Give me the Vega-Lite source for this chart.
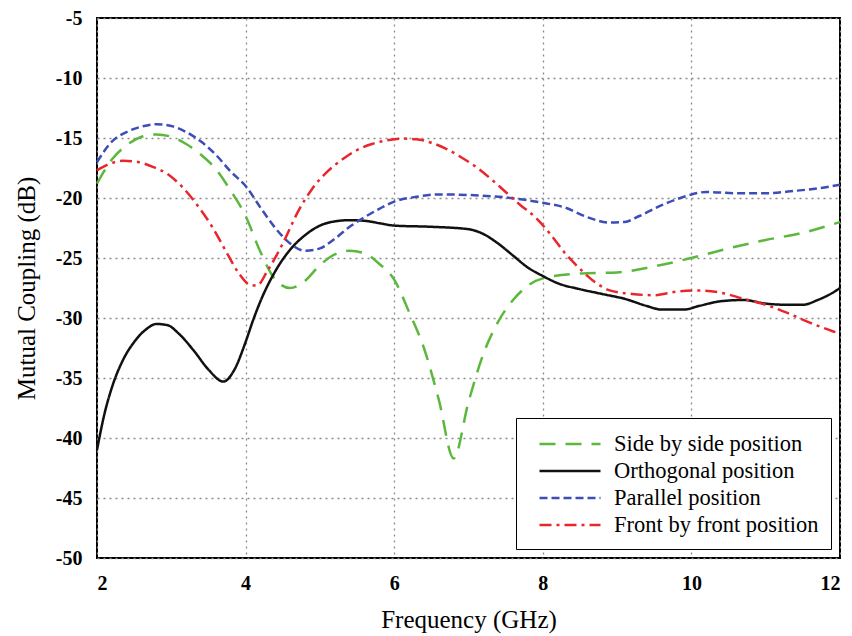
{
  "$schema": "https://vega.github.io/schema/vega-lite/v6.json",
  "width": 743,
  "height": 540,
  "autosize": {"type": "none"},
  "padding": {"left": 97, "top": 18, "right": 12, "bottom": 78},
  "background": "white",
  "config": {
    "view": {"stroke": "black", "strokeWidth": 2},
    "axis": {
      "labelFont": "Liberation Serif",
      "labelFontWeight": "bold",
      "labelFontSize": 20,
      "labelColor": "black",
      "labelExpr": "'' + datum.value",
      "titleFont": "Liberation Serif",
      "titleFontWeight": "normal",
      "titleFontSize": 25,
      "titleColor": "black",
      "ticks": false,
      "domain": false,
      "grid": true,
      "gridColor": "#8a8a8a",
      "gridDash": [2, 4],
      "gridWidth": 1.3
    },
    "legend": {
      "orient": "none",
      "legendX": 419,
      "legendY": 400,
      "strokeColor": "black",
      "fillColor": "white",
      "padding": 12,
      "labelFont": "Liberation Serif",
      "labelFontSize": 22.5,
      "labelColor": "black",
      "labelLimit": 400,
      "symbolType": "M-0.2,0H4.68",
      "symbolSize": 625,
      "symbolStrokeWidth": 2.5,
      "labelOffset": 58,
      "rowPadding": 1
    }
  },
  "data": {
    "values": [
      {"s": "Side by side position", "f": 2.0, "db": -18.8},
      {"s": "Side by side position", "f": 2.2, "db": -16.8},
      {"s": "Side by side position", "f": 2.4, "db": -15.6},
      {"s": "Side by side position", "f": 2.6, "db": -14.9},
      {"s": "Side by side position", "f": 2.8, "db": -14.7},
      {"s": "Side by side position", "f": 3.0, "db": -14.9},
      {"s": "Side by side position", "f": 3.2, "db": -15.5},
      {"s": "Side by side position", "f": 3.4, "db": -16.4},
      {"s": "Side by side position", "f": 3.6, "db": -17.6},
      {"s": "Side by side position", "f": 3.8, "db": -19.4},
      {"s": "Side by side position", "f": 4.0, "db": -21.5},
      {"s": "Side by side position", "f": 4.2, "db": -24.5},
      {"s": "Side by side position", "f": 4.4, "db": -26.8},
      {"s": "Side by side position", "f": 4.6, "db": -27.5},
      {"s": "Side by side position", "f": 4.8, "db": -26.9},
      {"s": "Side by side position", "f": 5.0, "db": -25.6},
      {"s": "Side by side position", "f": 5.2, "db": -24.7},
      {"s": "Side by side position", "f": 5.4, "db": -24.4},
      {"s": "Side by side position", "f": 5.6, "db": -24.6},
      {"s": "Side by side position", "f": 5.8, "db": -25.5},
      {"s": "Side by side position", "f": 6.0, "db": -26.8},
      {"s": "Side by side position", "f": 6.2, "db": -29.5},
      {"s": "Side by side position", "f": 6.4, "db": -32.5},
      {"s": "Side by side position", "f": 6.6, "db": -36.8},
      {"s": "Side by side position", "f": 6.8, "db": -41.7},
      {"s": "Side by side position", "f": 7.0, "db": -37.0},
      {"s": "Side by side position", "f": 7.2, "db": -33.0},
      {"s": "Side by side position", "f": 7.4, "db": -30.3},
      {"s": "Side by side position", "f": 7.6, "db": -28.5},
      {"s": "Side by side position", "f": 7.8, "db": -27.3},
      {"s": "Side by side position", "f": 8.0, "db": -26.7},
      {"s": "Side by side position", "f": 8.5, "db": -26.3},
      {"s": "Side by side position", "f": 9.0, "db": -26.2},
      {"s": "Side by side position", "f": 9.5, "db": -25.7},
      {"s": "Side by side position", "f": 10.0, "db": -25.0},
      {"s": "Side by side position", "f": 10.5, "db": -24.2},
      {"s": "Side by side position", "f": 11.0, "db": -23.5},
      {"s": "Side by side position", "f": 11.5, "db": -22.9},
      {"s": "Side by side position", "f": 12.0, "db": -22.0},

      {"s": "Orthogonal position", "f": 2.0, "db": -41.0},
      {"s": "Orthogonal position", "f": 2.1, "db": -38.0},
      {"s": "Orthogonal position", "f": 2.2, "db": -35.8},
      {"s": "Orthogonal position", "f": 2.35, "db": -33.5},
      {"s": "Orthogonal position", "f": 2.5, "db": -32.0},
      {"s": "Orthogonal position", "f": 2.65, "db": -31.0},
      {"s": "Orthogonal position", "f": 2.8, "db": -30.5},
      {"s": "Orthogonal position", "f": 2.95, "db": -30.6},
      {"s": "Orthogonal position", "f": 3.1, "db": -31.3},
      {"s": "Orthogonal position", "f": 3.3, "db": -32.7},
      {"s": "Orthogonal position", "f": 3.5, "db": -34.3},
      {"s": "Orthogonal position", "f": 3.7, "db": -35.3},
      {"s": "Orthogonal position", "f": 3.85, "db": -34.3},
      {"s": "Orthogonal position", "f": 4.0, "db": -32.0},
      {"s": "Orthogonal position", "f": 4.1, "db": -30.2},
      {"s": "Orthogonal position", "f": 4.2, "db": -28.6},
      {"s": "Orthogonal position", "f": 4.4, "db": -26.1},
      {"s": "Orthogonal position", "f": 4.6, "db": -24.3},
      {"s": "Orthogonal position", "f": 4.8, "db": -23.1},
      {"s": "Orthogonal position", "f": 5.0, "db": -22.3},
      {"s": "Orthogonal position", "f": 5.2, "db": -21.95},
      {"s": "Orthogonal position", "f": 5.4, "db": -21.85},
      {"s": "Orthogonal position", "f": 5.6, "db": -21.9},
      {"s": "Orthogonal position", "f": 5.8, "db": -22.1},
      {"s": "Orthogonal position", "f": 6.0, "db": -22.3},
      {"s": "Orthogonal position", "f": 6.5, "db": -22.4},
      {"s": "Orthogonal position", "f": 7.0, "db": -22.6},
      {"s": "Orthogonal position", "f": 7.2, "db": -23.0},
      {"s": "Orthogonal position", "f": 7.4, "db": -23.8},
      {"s": "Orthogonal position", "f": 7.6, "db": -24.8},
      {"s": "Orthogonal position", "f": 7.8, "db": -25.8},
      {"s": "Orthogonal position", "f": 8.0, "db": -26.5},
      {"s": "Orthogonal position", "f": 8.2, "db": -27.1},
      {"s": "Orthogonal position", "f": 8.5, "db": -27.6},
      {"s": "Orthogonal position", "f": 8.8, "db": -28.0},
      {"s": "Orthogonal position", "f": 9.1, "db": -28.4},
      {"s": "Orthogonal position", "f": 9.4, "db": -29.0},
      {"s": "Orthogonal position", "f": 9.6, "db": -29.3},
      {"s": "Orthogonal position", "f": 9.9, "db": -29.3},
      {"s": "Orthogonal position", "f": 10.1, "db": -29.0},
      {"s": "Orthogonal position", "f": 10.4, "db": -28.6},
      {"s": "Orthogonal position", "f": 10.7, "db": -28.5},
      {"s": "Orthogonal position", "f": 11.0, "db": -28.8},
      {"s": "Orthogonal position", "f": 11.3, "db": -28.9},
      {"s": "Orthogonal position", "f": 11.5, "db": -28.9},
      {"s": "Orthogonal position", "f": 11.7, "db": -28.5},
      {"s": "Orthogonal position", "f": 11.9, "db": -27.9},
      {"s": "Orthogonal position", "f": 12.0, "db": -27.5},

      {"s": "Parallel position", "f": 2.0, "db": -17.0},
      {"s": "Parallel position", "f": 2.2, "db": -15.3},
      {"s": "Parallel position", "f": 2.4, "db": -14.5},
      {"s": "Parallel position", "f": 2.6, "db": -14.05},
      {"s": "Parallel position", "f": 2.8, "db": -13.85},
      {"s": "Parallel position", "f": 3.0, "db": -14.0},
      {"s": "Parallel position", "f": 3.2, "db": -14.5},
      {"s": "Parallel position", "f": 3.4, "db": -15.3},
      {"s": "Parallel position", "f": 3.6, "db": -16.4},
      {"s": "Parallel position", "f": 3.8, "db": -17.8},
      {"s": "Parallel position", "f": 4.0, "db": -19.0},
      {"s": "Parallel position", "f": 4.2, "db": -20.8},
      {"s": "Parallel position", "f": 4.4, "db": -22.5},
      {"s": "Parallel position", "f": 4.6, "db": -23.8},
      {"s": "Parallel position", "f": 4.8, "db": -24.4},
      {"s": "Parallel position", "f": 5.0, "db": -24.2},
      {"s": "Parallel position", "f": 5.2, "db": -23.4},
      {"s": "Parallel position", "f": 5.4, "db": -22.4},
      {"s": "Parallel position", "f": 5.6, "db": -21.6},
      {"s": "Parallel position", "f": 5.8, "db": -20.9},
      {"s": "Parallel position", "f": 6.0, "db": -20.3},
      {"s": "Parallel position", "f": 6.3, "db": -19.9},
      {"s": "Parallel position", "f": 6.6, "db": -19.7},
      {"s": "Parallel position", "f": 7.0, "db": -19.75},
      {"s": "Parallel position", "f": 7.5, "db": -19.95},
      {"s": "Parallel position", "f": 8.0, "db": -20.4},
      {"s": "Parallel position", "f": 8.3, "db": -20.8},
      {"s": "Parallel position", "f": 8.6, "db": -21.6},
      {"s": "Parallel position", "f": 8.9, "db": -22.05},
      {"s": "Parallel position", "f": 9.1, "db": -22.0},
      {"s": "Parallel position", "f": 9.3, "db": -21.5},
      {"s": "Parallel position", "f": 9.6, "db": -20.6},
      {"s": "Parallel position", "f": 9.9, "db": -19.9},
      {"s": "Parallel position", "f": 10.2, "db": -19.5},
      {"s": "Parallel position", "f": 10.6, "db": -19.6},
      {"s": "Parallel position", "f": 11.0, "db": -19.6},
      {"s": "Parallel position", "f": 11.4, "db": -19.4},
      {"s": "Parallel position", "f": 11.7, "db": -19.2},
      {"s": "Parallel position", "f": 12.0, "db": -18.9},

      {"s": "Front by front position", "f": 2.0, "db": -17.7},
      {"s": "Front by front position", "f": 2.15, "db": -17.2},
      {"s": "Front by front position", "f": 2.35, "db": -16.9},
      {"s": "Front by front position", "f": 2.55, "db": -17.0},
      {"s": "Front by front position", "f": 2.75, "db": -17.4},
      {"s": "Front by front position", "f": 2.95, "db": -18.0},
      {"s": "Front by front position", "f": 3.15, "db": -19.1},
      {"s": "Front by front position", "f": 3.35, "db": -20.6},
      {"s": "Front by front position", "f": 3.55, "db": -22.4},
      {"s": "Front by front position", "f": 3.75, "db": -24.6},
      {"s": "Front by front position", "f": 3.9, "db": -26.2},
      {"s": "Front by front position", "f": 4.05, "db": -27.2},
      {"s": "Front by front position", "f": 4.15, "db": -27.3},
      {"s": "Front by front position", "f": 4.3, "db": -26.0},
      {"s": "Front by front position", "f": 4.5, "db": -23.8},
      {"s": "Front by front position", "f": 4.7, "db": -21.2},
      {"s": "Front by front position", "f": 4.9, "db": -19.2},
      {"s": "Front by front position", "f": 5.1, "db": -17.8},
      {"s": "Front by front position", "f": 5.3, "db": -16.8},
      {"s": "Front by front position", "f": 5.5, "db": -16.0},
      {"s": "Front by front position", "f": 5.7, "db": -15.5},
      {"s": "Front by front position", "f": 5.9, "db": -15.2},
      {"s": "Front by front position", "f": 6.1, "db": -15.05},
      {"s": "Front by front position", "f": 6.3, "db": -15.1},
      {"s": "Front by front position", "f": 6.5, "db": -15.4},
      {"s": "Front by front position", "f": 6.7, "db": -15.9},
      {"s": "Front by front position", "f": 6.9, "db": -16.6},
      {"s": "Front by front position", "f": 7.1, "db": -17.4},
      {"s": "Front by front position", "f": 7.3, "db": -18.4},
      {"s": "Front by front position", "f": 7.5, "db": -19.5},
      {"s": "Front by front position", "f": 7.7, "db": -20.6},
      {"s": "Front by front position", "f": 7.9, "db": -21.6},
      {"s": "Front by front position", "f": 8.1, "db": -23.0},
      {"s": "Front by front position", "f": 8.3, "db": -24.6},
      {"s": "Front by front position", "f": 8.5, "db": -25.9},
      {"s": "Front by front position", "f": 8.7, "db": -27.0},
      {"s": "Front by front position", "f": 8.9, "db": -27.7},
      {"s": "Front by front position", "f": 9.2, "db": -28.0},
      {"s": "Front by front position", "f": 9.5, "db": -28.1},
      {"s": "Front by front position", "f": 9.8, "db": -27.8},
      {"s": "Front by front position", "f": 10.1, "db": -27.7},
      {"s": "Front by front position", "f": 10.4, "db": -27.9},
      {"s": "Front by front position", "f": 10.7, "db": -28.4},
      {"s": "Front by front position", "f": 11.0, "db": -28.9},
      {"s": "Front by front position", "f": 11.3, "db": -29.6},
      {"s": "Front by front position", "f": 11.6, "db": -30.4},
      {"s": "Front by front position", "f": 11.9, "db": -31.1},
      {"s": "Front by front position", "f": 12.0, "db": -31.3}
    ]
  },
  "mark": {"type": "line", "interpolate": "monotone", "strokeWidth": 2.5},
  "encoding": {
    "x": {
      "field": "f",
      "type": "quantitative",
      "scale": {"domain": [2, 12], "nice": false},
      "axis": {"values": [2, 4, 6, 8, 10, 12], "title": "Frequency (GHz)", "labelPadding": 15, "titlePadding": 14}
    },
    "y": {
      "field": "db",
      "type": "quantitative",
      "scale": {"domain": [-50, -5], "nice": false},
      "axis": {"values": [-50, -45, -40, -35, -30, -25, -20, -15, -10, -5], "title": "Mutual Coupling (dB)", "labelPadding": 15, "titlePadding": 16}
    },
    "color": {
      "field": "s",
      "type": "nominal",
      "scale": {
        "domain": ["Side by side position", "Orthogonal position", "Parallel position", "Front by front position"],
        "range": ["#5cb83c", "#111111", "#3c4db8", "#e8262b"]
      },
      "legend": {"title": null}
    },
    "strokeDash": {
      "field": "s",
      "type": "nominal",
      "scale": {
        "domain": ["Side by side position", "Orthogonal position", "Parallel position", "Front by front position"],
        "range": [[16, 10], [1, 0], [8, 4], [12, 5, 3, 5]]
      },
      "legend": {"title": null}
    },
    "order": {"field": "f", "type": "quantitative"}
  }
}
